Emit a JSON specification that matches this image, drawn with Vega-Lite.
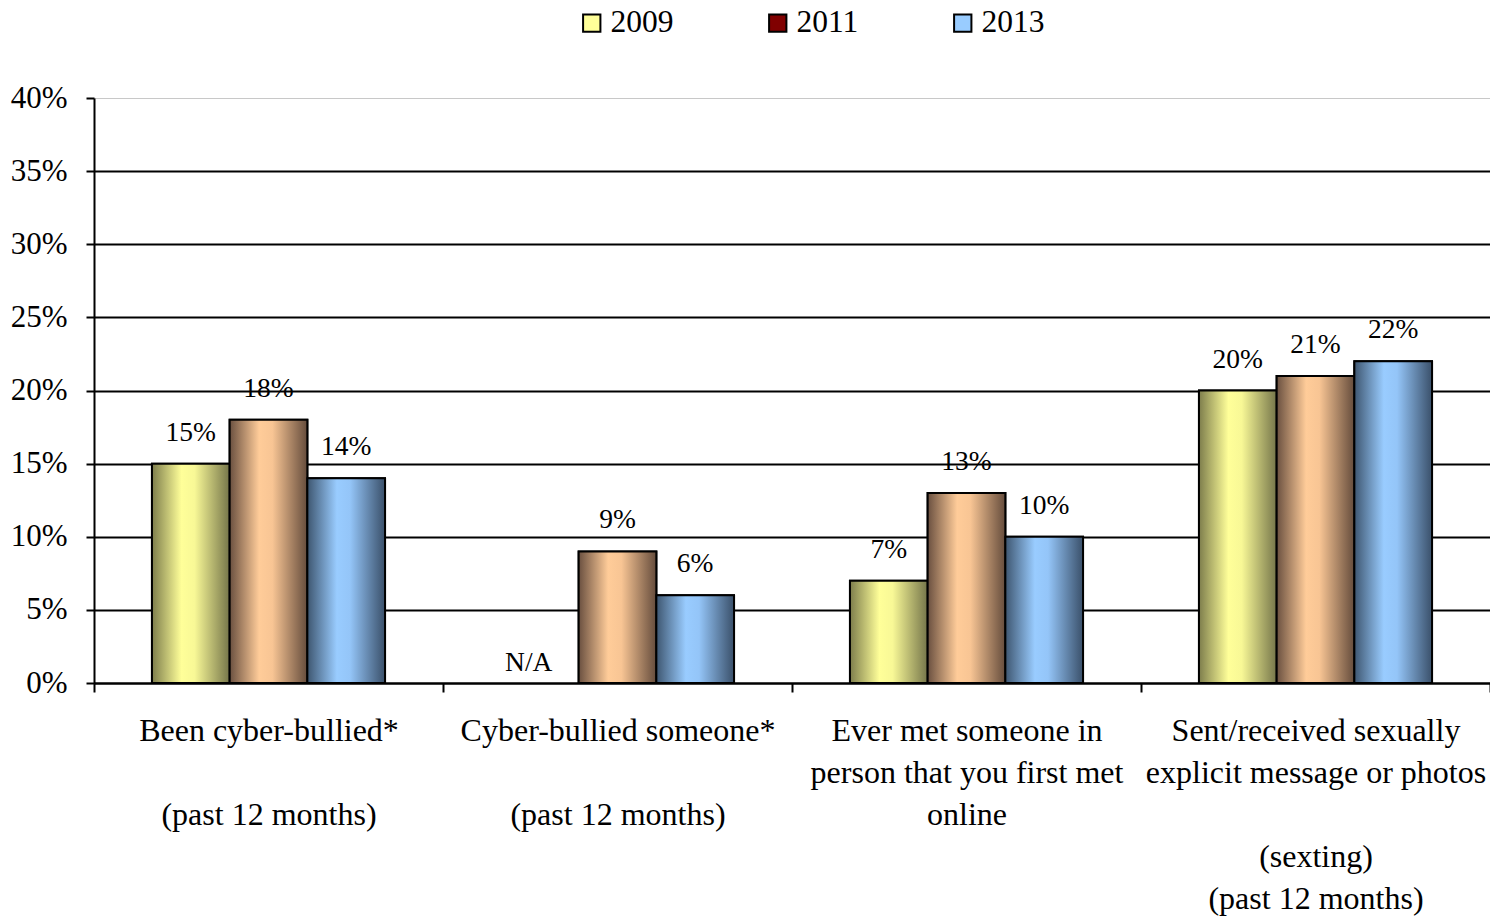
{
  "$schema": "https://vega.github.io/schema/vega-lite/v6.json",
  "width": 1396,
  "height": 585,
  "autosize": {"type": "none"},
  "padding": {"left": 94, "top": 98, "right": 0, "bottom": 235},
  "background": "white",
  "config": {
    "view": {"stroke": null},
    "font": "Liberation Serif",
    "legend": {
      "orient": "none",
      "legendX": 482,
      "legendY": -91,
      "direction": "horizontal",
      "symbolType": "square",
      "symbolSize": 300,
      "symbolStrokeColor": "black",
      "symbolStrokeWidth": 2,
      "symbolOpacity": 1,
      "labelFontSize": 31.5,
      "labelColor": "black",
      "labelOffset": 3,
      "columnPadding": 88,
      "labelLimit": 0
    }
  },
  "data": {
    "values": [
      {"category": "Been cyber-bullied*|\u200b|(past 12 months)", "year": "2009", "value": 0.15, "label": "15%"},
      {"category": "Been cyber-bullied*|\u200b|(past 12 months)", "year": "2011", "value": 0.18, "label": "18%"},
      {"category": "Been cyber-bullied*|\u200b|(past 12 months)", "year": "2013", "value": 0.14, "label": "14%"},
      {"category": "Cyber-bullied someone*|\u200b|(past 12 months)", "year": "2011", "value": 0.09, "label": "9%"},
      {"category": "Cyber-bullied someone*|\u200b|(past 12 months)", "year": "2013", "value": 0.06, "label": "6%"},
      {"category": "Ever met someone in|person that you first met|online", "year": "2009", "value": 0.07, "label": "7%"},
      {"category": "Ever met someone in|person that you first met|online", "year": "2011", "value": 0.13, "label": "13%"},
      {"category": "Ever met someone in|person that you first met|online", "year": "2013", "value": 0.10, "label": "10%"},
      {"category": "Sent/received sexually|explicit message or photos|\u200b|(sexting)|(past 12 months)", "year": "2009", "value": 0.20, "label": "20%"},
      {"category": "Sent/received sexually|explicit message or photos|\u200b|(sexting)|(past 12 months)", "year": "2011", "value": 0.21, "label": "21%"},
      {"category": "Sent/received sexually|explicit message or photos|\u200b|(sexting)|(past 12 months)", "year": "2013", "value": 0.22, "label": "22%"}
    ]
  },
  "encoding": {
    "x": {
      "field": "category",
      "type": "nominal",
      "sort": null,
      "scale": {"paddingInner": 0, "paddingOuter": 0},
      "axis": {
        "title": null,
        "labelAngle": 0,
        "labelExpr": "split(datum.label, '|')",
        "labelFontSize": 32,
        "labelLineHeight": 42,
        "labelColor": "black",
        "labelLimit": 0,
        "labelPadding": 23,
        "tickBand": "extent",
        "tickSize": 9,
        "tickColor": "black",
        "tickWidth": 2,
        "domainColor": "black",
        "domainWidth": 2,
        "grid": false
      }
    },
    "xOffset": {"field": "year", "type": "nominal", "scale": {"domain": ["2009", "2011", "2013"], "paddingInner": 0, "paddingOuter": 0.746}},
    "y": {
      "field": "value",
      "type": "quantitative",
      "scale": {"domain": [0, 0.4]},
      "axis": {
        "title": null,
        "values": [0, 0.05, 0.1, 0.15, 0.2, 0.25, 0.3, 0.35, 0.4],
        "format": ".0%",
        "labelFontSize": 31,
        "labelColor": "black",
        "labelPadding": 19,
        "tickSize": 8,
        "tickColor": "black",
        "tickWidth": 2,
        "domainColor": "black",
        "domainWidth": 2,
        "grid": true,
        "gridColor": {"condition": {"test": "datum.value >= 0.4", "value": "#c8c8c8"}, "value": "black"},
        "gridWidth": {"condition": {"test": "datum.value >= 0.4", "value": 1}, "value": 2}
      }
    }
  },
  "layer": [
    {
      "mark": {"type": "bar", "stroke": "black", "strokeWidth": 2},
      "encoding": {
        "color": {
          "field": "year",
          "type": "nominal",
          "title": null,
          "scale": {"domain": ["2009", "2011", "2013"], "range": ["#ffff99", "#800000", "#99ccff"]}
        }
      }
    },
    {
      "transform": [{"filter": "datum.year == '2009'"}],
      "mark": {
        "type": "bar",
        "stroke": "black",
        "strokeWidth": 2,
        "fill": {"gradient": "linear", "x1": 0, "y1": 0, "x2": 1, "y2": 0,
          "stops": [
            {"offset": 0, "color": "#7d7d4c"},
            {"offset": 0.38, "color": "#ffff99"},
            {"offset": 0.55, "color": "#f8f896"},
            {"offset": 1, "color": "#75754a"}
          ]}
      }
    },
    {
      "transform": [{"filter": "datum.year == '2011'"}],
      "mark": {
        "type": "bar",
        "stroke": "black",
        "strokeWidth": 2,
        "fill": {"gradient": "linear", "x1": 0, "y1": 0, "x2": 1, "y2": 0,
          "stops": [
            {"offset": 0, "color": "#6a5040"},
            {"offset": 0.38, "color": "#ffcc99"},
            {"offset": 0.55, "color": "#f8c594"},
            {"offset": 1, "color": "#654c3c"}
          ]}
      }
    },
    {
      "transform": [{"filter": "datum.year == '2013'"}],
      "mark": {
        "type": "bar",
        "stroke": "black",
        "strokeWidth": 2,
        "fill": {"gradient": "linear", "x1": 0, "y1": 0, "x2": 1, "y2": 0,
          "stops": [
            {"offset": 0, "color": "#3e5670"},
            {"offset": 0.38, "color": "#99ccff"},
            {"offset": 0.55, "color": "#94c5f8"},
            {"offset": 1, "color": "#3a506a"}
          ]}
      }
    },
    {
      "mark": {"type": "text", "fontSize": 27.5, "baseline": "middle", "dy": -31, "color": "black"},
      "encoding": {"text": {"field": "label"}}
    },
    {
      "data": {"values": [{"category": "Cyber-bullied someone*|\u200b|(past 12 months)", "year": "2009", "value": 0, "label": "N/A"}]},
      "mark": {"type": "text", "fontSize": 27.5, "baseline": "middle", "dx": -11, "dy": -20, "color": "black"},
      "encoding": {"text": {"field": "label"}}
    }
  ]
}
